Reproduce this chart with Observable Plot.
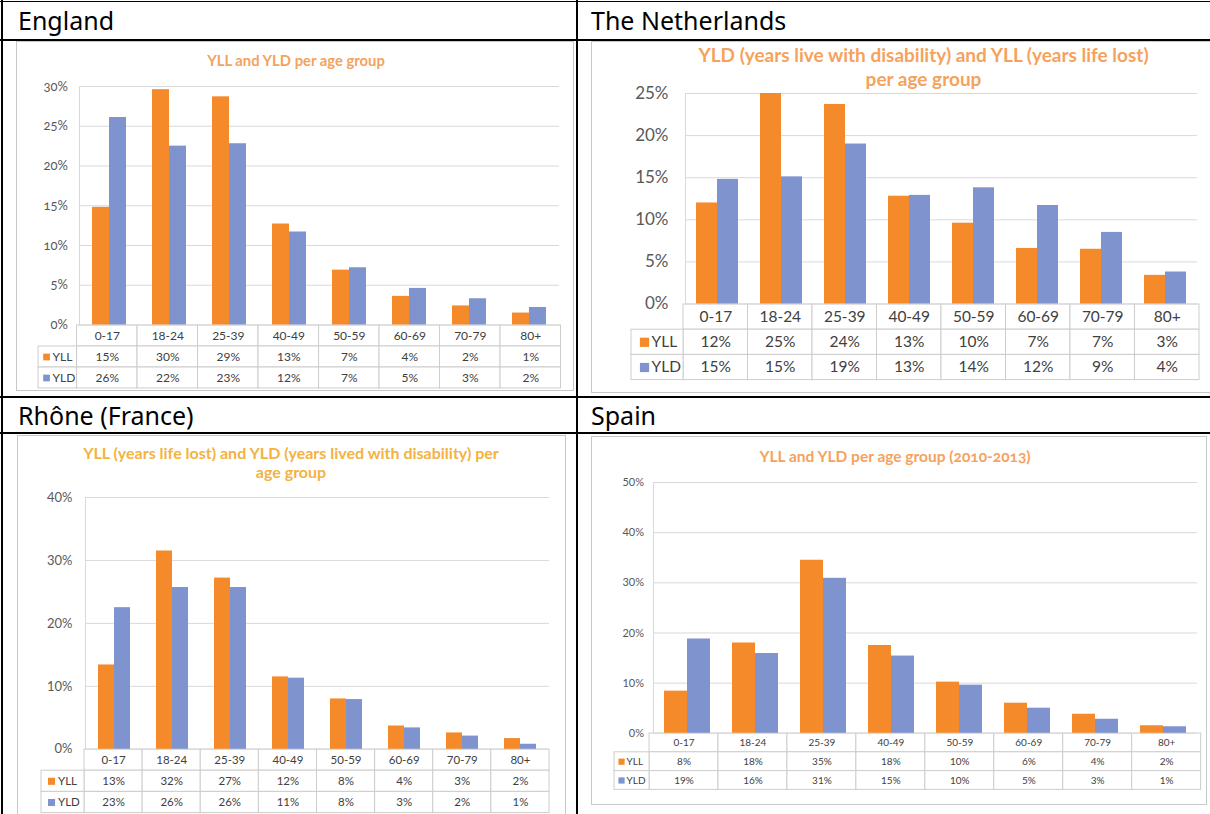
<!DOCTYPE html>
<html><head><meta charset="utf-8">
<script src="https://cdn.jsdelivr.net/npm/d3@7"></script>
<script src="https://cdn.jsdelivr.net/npm/@observablehq/plot@0.6"></script>
<style>
body{margin:0;background:#fff;}
#page{position:relative;width:1210px;height:814px;overflow:hidden;background:#fff;}
.line{position:absolute;background:#000;}
.hdr{position:absolute;font-family:"Noto Sans",sans-serif;font-size:25px;line-height:25px;color:#000;white-space:nowrap;}
.box{position:absolute;border:1px solid #C8C8C8;box-sizing:border-box;background:#fff;}
.title{position:absolute;font-family:Lato,sans-serif;font-weight:bold;text-align:center;white-space:nowrap;transform:translateX(-50%);}
</style></head><body><div id="page"></div>
<script>
// ---------- data ----------
const ageGroups = ["0-17","18-24","25-39","40-49","50-59","60-69","70-79","80+"];
const seriesNames = ["YLL","YLD"];
const countryNames = ["England","The Netherlands","Rhône (France)","Spain"];

const englandTitle = ["YLL and YLD per age group"];
const englandTicks = [0,5,10,15,20,25,30];
const englandYLL = [14.8,29.6,28.7,12.7,6.9,3.6,2.4,1.5];
const englandYLD = [26.1,22.5,22.8,11.7,7.2,4.6,3.3,2.2];
const englandYLLLabels = ["15%","30%","29%","13%","7%","4%","2%","1%"];
const englandYLDLabels = ["26%","22%","23%","12%","7%","5%","3%","2%"];

const nlTitle = ["YLD (years live with disability) and YLL (years life lost)","per age group"];
const nlTicks = [0,5,10,15,20,25];
const nlYLL = [12.0,25.0,23.7,12.8,9.6,6.6,6.5,3.4];
const nlYLD = [14.8,15.1,19.0,12.9,13.8,11.7,8.5,3.8];
const nlYLLLabels = ["12%","25%","24%","13%","10%","7%","7%","3%"];
const nlYLDLabels = ["15%","15%","19%","13%","14%","12%","9%","4%"];

const rhoneTitle = ["YLL (years life lost) and YLD (years lived with disability) per","age group"];
const rhoneTicks = [0,10,20,30,40];
const rhoneYLL = [13.4,31.5,27.2,11.5,8.0,3.7,2.6,1.7];
const rhoneYLD = [22.5,25.7,25.7,11.3,7.9,3.4,2.1,0.8];
const rhoneYLLLabels = ["13%","32%","27%","12%","8%","4%","3%","2%"];
const rhoneYLDLabels = ["23%","26%","26%","11%","8%","3%","2%","1%"];

const spainTitle = ["YLL and YLD per age group (2010-2013)"];
const spainTicks = [0,10,20,30,40,50];
const spainYLL = [8.4,18.0,34.5,17.5,10.2,6.0,3.8,1.5];
const spainYLD = [18.8,15.9,30.9,15.4,9.6,5.0,2.8,1.3];
const spainYLLLabels = ["8%","18%","35%","18%","10%","6%","4%","2%"];
const spainYLDLabels = ["19%","16%","31%","15%","10%","5%","3%","1%"];

// ---------- styles / layout ----------
const ORANGE = "#F58A2B", BLUE = "#7F94CF", GRID = "#D9D9D9", CELL = "#CDCDCD";
const TICKTXT = "#595959", TABTXT = "#404040";

const charts = [
  {title: englandTitle, ticks: englandTicks, yll: englandYLL, yld: englandYLD, yllLab: englandYLLLabels, yldLab: englandYLDLabels,
   L: {box:[16,41,574,391], titleX:296, titleY:[60], titleSize:14.8, titleColor:"#F5A25D", oldstyle:true,
       plotL:76.5, plotR:560.6, yTop:86, y0:324.5, yMax:30, labelRight:65, tickSize:13,
       legendL:38, rowH:21, tabSize:12, pad:0.73, swDx:8, txDx:14, swR:3.8}},
  {title: nlTitle, ticks: nlTicks, yll: nlYLL, yld: nlYLD, yllLab: nlYLLLabels, yldLab: nlYLDLabels,
   L: {box:[591,41,1214,393], titleX:923.5, titleY:[55,79], titleSize:19, titleColor:"#F5A25D",
       plotL:683, plotR:1199, yTop:93, y0:303.5, yMax:25, labelRight:666, tickSize:17,
       legendL:631, rowH:25.2, tabSize:15.5, pad:0.47, swDx:13, txDx:20, swR:5.2}},
  {title: rhoneTitle, ticks: rhoneTicks, yll: rhoneYLL, yld: rhoneYLD, yllLab: rhoneYLLLabels, yldLab: rhoneYLDLabels,
   L: {box:[17,435,566,818], titleX:291, titleY:[453,472], titleSize:16, titleColor:"#F4B23E",
       plotL:84, plotR:549, yTop:496.7, y0:748.5, yMax:40, labelRight:71, tickSize:13,
       legendL:41, rowH:21.2, tabSize:11.5, pad:0.71, swDx:10, txDx:16.5, swR:4}},
  {title: spainTitle, ticks: spainTicks, yll: spainYLL, yld: spainYLD, yllLab: spainYLLLabels, yldLab: spainYLDLabels,
   L: {box:[591,436,1207,805], titleX:895, titleY:[457], titleSize:15.5, titleColor:"#F5A25D", oldstyleTitle:true,
       plotL:649, plotR:1200.7, yTop:481.7, y0:732.5, yMax:50, labelRight:639.5, tickSize:11,
       legendL:614, rowH:18.8, tabSize:10, pad:0.46, swDx:7, txDx:12, swR:3.5}}
];

const page = document.getElementById("page");
function place(el, left, top) {
  el.style.position = "absolute"; el.style.left = left + "px"; el.style.top = top + "px";
  page.appendChild(el);
}

// outer table
const lines = [[0,0.5,1210,1.5],[1,0,1.5,814],[576,0,1.5,814],[0,39,1210,1.5],[0,396,1210,1.5],[0,432,1210,1.5]];
lines.forEach(([l,t,w,h]) => { const d = document.createElement("div"); d.className = "line";
  d.style.width = w + "px"; d.style.height = h + "px"; place(d, l, t); });
const hdrPos = [[18,8],[591,8],[18,403],[591,403]];
countryNames.forEach((n,i) => { const d = document.createElement("div"); d.className = "hdr"; d.textContent = n; place(d, hdrPos[i][0], hdrPos[i][1]); });

function drawChart(c) {
  const L = c.L;
  const box = document.createElement("div"); box.className = "box";
  box.style.width = (L.box[2]-L.box[0]) + "px"; box.style.height = (L.box[3]-L.box[1]) + "px";
  place(box, L.box[0], L.box[1]);

  c.title.forEach((t,k) => {
    const d = document.createElement("div"); d.className = "title"; d.textContent = t;
    const lh = L.titleSize * 1.25;
    d.style.fontSize = L.titleSize + "px"; d.style.lineHeight = lh + "px"; d.style.color = L.titleColor;
    if (L.oldstyleTitle) d.style.fontVariantNumeric = "oldstyle-nums";
    place(d, L.titleX, L.titleY[k] - lh/2);
  });

  // ---- data table ----
  const n = ageGroups.length;
  const band = (L.plotR - L.plotL) / n;
  const lw = (L.plotL - L.legendL) / band;
  const tw = L.plotR - L.legendL, th = L.rowH * 3, m = 1;
  const cells = [];
  [0,1,2].forEach(j => ageGroups.forEach((a,i) => cells.push({x1:i, x2:i+1, y1:j, y2:j+1})));
  seriesNames.forEach((s,k) => cells.push({x1:-lw, x2:0, y1:k+1, y2:k+2}));
  const texts = [];
  ageGroups.forEach((a,i) => {
    texts.push({x:i+0.5, y:0.5, t:a});
    texts.push({x:i+0.5, y:1.5, t:c.yllLab[i]});
    texts.push({x:i+0.5, y:2.5, t:c.yldLab[i]});
  });
  const legend = seriesNames.map((s,k) => ({s, y:k+1.5}));
  const table = Plot.plot({
    width: tw + 2*m, height: th + 2*m, margin: m,
    x: {type:"linear", domain:[-lw, n], axis:null},
    y: {type:"linear", domain:[0,3], range:[m, th+m], axis:null},
    color: {domain: seriesNames, range: [ORANGE, BLUE]},
    style: {background:"transparent", overflow:"visible", fontFamily:"Lato, sans-serif", fontSize: L.tabSize + "px"},
    marks: [
      Plot.rect(cells, {x1:"x1", x2:"x2", y1:"y1", y2:"y2", fill:"white", stroke:CELL}),
      Plot.text(texts, {x:"x", y:"y", text:"t", fill:TABTXT}),
      Plot.dot(legend, {x:() => -lw, y:"y", symbol:"square", r:L.swR, fill:"s", dx:L.swDx}),
      Plot.text(legend, {x:() => -lw, y:"y", text:"s", textAnchor:"start", dx:L.txDx, fill:TABTXT})
    ]
  });
  place(table, L.legendL - m, L.y0 - m);

  // ---- bars ----
  const rows = ageGroups.flatMap((a,i) => [
    {age:a, series:"YLL", value:c.yll[i]},
    {age:a, series:"YLD", value:c.yld[i]}
  ]);
  const mL = 60, mR = 4, mT = 10, mB = 10;
  const bars = Plot.plot({
    width: L.plotR - L.plotL + mL + mR, height: L.y0 - L.yTop + mT + mB,
    marginLeft: mL, marginRight: mR, marginTop: mT, marginBottom: mB,
    style: {background:"transparent", overflow:"visible", fontFamily:"Lato, sans-serif", fontSize: L.tickSize + "px"},
    facet: {data: rows, x: "age"},
    fx: {domain: ageGroups, padding: 0, axis: null, label: null},
    x: {domain: seriesNames, paddingInner: 0, paddingOuter: L.pad, axis: null, label: null},
    y: {domain: [0, L.yMax], axis: null, label: null},
    color: {domain: seriesNames, range: [ORANGE, BLUE]},
    marks: [
      Plot.gridY(c.ticks, {stroke: GRID, strokeOpacity: 1}),
      Plot.frame({anchor: "left", facetAnchor: "left", stroke: GRID}),
      Plot.barY(rows, {x: "series", y: "value", fill: "series"}),
      Plot.axisY(c.ticks, {tickSize: 0, tickPadding: L.plotL - L.labelRight, tickFormat: d => d + "%",
        label: null, color: TICKTXT, fontVariant: L.oldstyle ? "oldstyle-nums" : "normal"})
    ]
  });
  place(bars, L.plotL - mL, L.yTop - mT);
}
charts.forEach(drawChart);
</script></body></html>
